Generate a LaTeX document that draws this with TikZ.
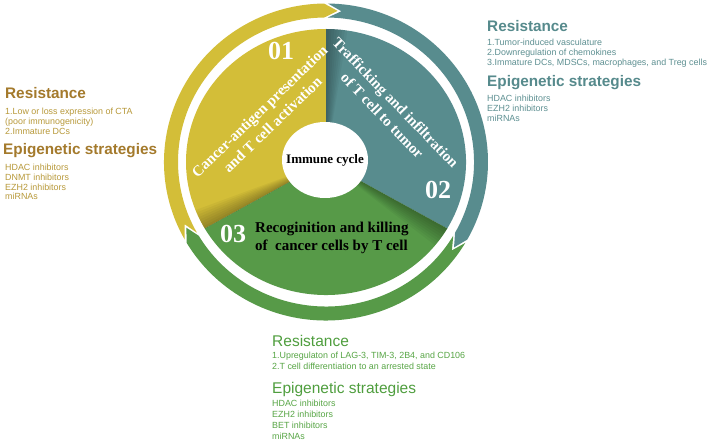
\documentclass[tikz,border=0pt]{standalone}
\usepackage{fontspec}
\setmainfont{Liberation Serif}
\setsansfont{Liberation Sans}
\definecolor{cyel}{HTML}{D3BE38}
\definecolor{cteal}{HTML}{588C8E}
\definecolor{cgreen}{HTML}{579A48}
\definecolor{tyelH}{HTML}{A47A2C}
\definecolor{tyelB}{HTML}{B8993A}
\definecolor{ttealH}{HTML}{568A8C}
\definecolor{ttealB}{HTML}{5E9092}
\definecolor{tgreenH}{HTML}{4F9E3E}
\definecolor{tgreenB}{HTML}{58A646}
\tikzset{
  headB/.style={font=\sffamily\bfseries\fontsize{15.3}{16}\selectfont, anchor=base west, inner sep=0pt},
  headR/.style={font=\sffamily\fontsize{15.5}{16}\selectfont, anchor=base west, inner sep=0pt},
  body/.style={font=\sffamily\fontsize{8.9}{10}\selectfont, anchor=base west, inner sep=0pt},
  num/.style={font=\bfseries\fontsize{26}{26}\selectfont, text=white, inner sep=0pt},
  sect/.style={font=\bfseries\fontsize{15}{18.5}\selectfont, align=center, inner sep=0pt},
  blk/.style={font=\bfseries\fontsize{15}{17}\selectfont, anchor=base west, inner sep=0pt},
}
% ring arrow: #1 tail angle, #2 head angle (clockwise, #1 > #2), #3 colour
\newcommand{\ringarrow}[3]{%
  \fill[#3] ({#1-0.7}:162pt and 158.5pt)
    arc[start angle={#1-0.7}, end angle={#2+0.7}, x radius=162pt, y radius=158.5pt]
    -- ({#2+0.7-5}:155pt and 151.5pt)
    -- ({#2+0.7}:148pt and 144.5pt)
    arc[start angle={#2+0.7}, end angle={#1-0.7}, x radius=148pt, y radius=144.5pt]
    -- ({#1-0.7-5}:155pt and 151.5pt) -- cycle;}
% shadow wedge on sector side near boundary angle #1, going clockwise
\newcommand{\sectshadow}[1]{%
  \foreach \k in {1,...,8}{%
    \fill[black, opacity=0.04] (0,0) -- (#1:140pt and 133pt)
      arc[start angle=#1, end angle={#1-\k*1.1}, x radius=140pt, y radius=133pt] -- cycle;}}
\begin{document}
\begin{tikzpicture}[x=1pt,y=1pt]
\useasboundingbox (0,0) rectangle (708,-443);
\fill[white] (0,0) rectangle (708,-443);

\begin{scope}[shift={(326pt,-162pt)}]
  % sectors
  \fill[cyel] (0,0) -- (90:140pt and 133pt)
    arc[start angle=90, end angle=210, x radius=140pt, y radius=133pt] -- cycle;
  \fill[cteal] (0,0) -- (-30:140pt and 133pt)
    arc[start angle=-30, end angle=90, x radius=140pt, y radius=133pt] -- cycle;
  \fill[cgreen] (0,0) -- (210:140pt and 133pt)
    arc[start angle=210, end angle=330, x radius=140pt, y radius=133pt] -- cycle;
  % shadows
  \sectshadow{210}
  \sectshadow{90}
  \sectshadow{-30}
  % ring arrows
  \ringarrow{210}{90}{cyel}
  \ringarrow{90}{-30}{cteal}
  \ringarrow{330}{210}{cgreen}
\end{scope}

% centre
\fill[white] (325,-160) ellipse[x radius=43pt, y radius=38pt];
\node[font=\bfseries\fontsize{13}{13}\selectfont] (center) at (325,-160) {Immune cycle};

% numbers
\node[num] (n01) at (281,-51) {01};
\node[num] (n02) at (438,-190) {02};
\node[num] (n03) at (233,-234) {03};

% sector texts
\node[sect, text=white, rotate=44] (s1) at (266,-118) {Cancer-antigen presentation\\and T cell activation};
\node[sect, text=white, rotate=-46] (s2) at (389,-109) {Trafficking and infiltration\\of T cell to tumor};
\node[blk] (s3a) at (255,-233) {Recoginition and killing};
\node[blk] (s3b) at (255,-251) {of\ \ cancer cells by T cell};

% left block
\node[headB, text=tyelH] (lr) at (5,-99) {Resistance};
\node[body, text=tyelB] (lr1) at (5,-115) {1.Low or loss expression of CTA};
\node[body, text=tyelB] (lr2) at (5,-125) {(poor immunogenicity)};
\node[body, text=tyelB] (lr3) at (5,-135) {2.Immature DCs};
\node[headB, text=tyelH] (le) at (3,-155) {Epigenetic strategies};
\node[body, text=tyelB] (le1) at (5,-171) {HDAC inhibitors};
\node[body, text=tyelB] (le2) at (5,-181) {DNMT inhibitors};
\node[body, text=tyelB] (le3) at (5,-190.5) {EZH2 inhibitors};
\node[body, text=tyelB] (le4) at (5,-200) {miRNAs};

% right block
\node[headB, text=ttealH] (rr) at (487,-32) {Resistance};
\node[body, text=ttealB] (rr1) at (487,-46) {1.Tumor-induced vasculature};
\node[body, text=ttealB] (rr2) at (487,-56) {2.Downregulation of chemokines};
\node[body, text=ttealB] (rr3) at (487,-66) {3.Immature DCs, MDSCs, macrophages, and Treg cells};
\node[headB, text=ttealH] (re) at (487,-87) {Epigenetic strategies};
\node[body, text=ttealB] (re1) at (487,-102) {HDAC inhibitors};
\node[body, text=ttealB] (re2) at (487,-112) {EZH2 inhibitors};
\node[body, text=ttealB] (re3) at (487,-122) {miRNAs};

% bottom block
\node[headR, text=tgreenH] (br) at (272,-346) {Resistance};
\node[body, text=tgreenB] (br1) at (272,-358.5) {1.Upregulaton of LAG-3, TIM-3, 2B4, and CD106};
\node[body, text=tgreenB] (br2) at (272,-369.5) {2.T cell differentiation to an arrested state};
\node[headR, text=tgreenH] (be) at (272,-393) {Epigenetic strategies};
\node[body, text=tgreenB] (be1) at (272,-406) {HDAC inhibitors};
\node[body, text=tgreenB] (be2) at (272,-417) {EZH2 inhibitors};
\node[body, text=tgreenB] (be3) at (272,-428.5) {BET inhibitors};
\node[body, text=tgreenB] (be4) at (272,-439.5) {miRNAs};
\end{tikzpicture}
\end{document}
